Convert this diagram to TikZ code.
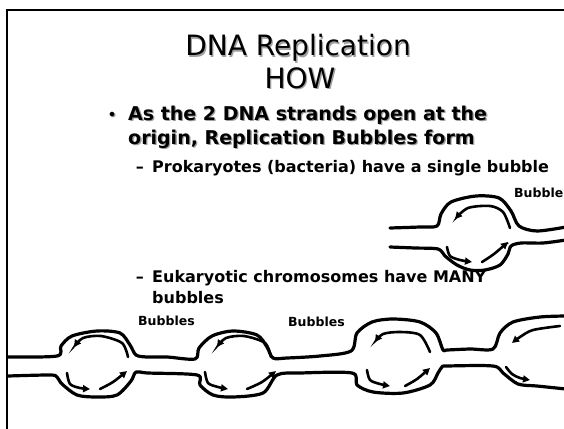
\documentclass[tikz,border=0pt]{standalone}
\usepackage{fontspec}
\setmainfont{DejaVu Sans}
\usepackage{tikz}
\usetikzlibrary{arrows.meta,positioning}

\definecolor{InkBlack}{HTML}{000000}
\definecolor{ShadowGray}{HTML}{A0A0A0}

% text with a soft grey shadow to the lower right
\newcommand\dropshadow[1]{\makebox[0pt][l]{\hspace{1.3pt}\raisebox{-1.3pt}{\textcolor{ShadowGray}{#1}}}#1}

\tikzset{
  % Slide title line
  ttl/.style={anchor=base, font=\fontsize{28}{32}\selectfont, text=InkBlack, inner sep=0pt},
  % First level bullet text
  lvlone/.style={anchor=base west, font=\fontsize{19}{24}\selectfont\bfseries, inner sep=0pt},
  % Second level bullet text
  lvltwo/.style={anchor=base west, font=\fontsize{16}{21}\selectfont\bfseries, inner sep=0pt},
  % Small label over the bubbles
  tag/.style={anchor=base west, font=\fontsize{12.5}{14}\selectfont\bfseries, inner sep=0pt},
  % Parent DNA strand, hand drawn
  strand/.style={line width=3.2pt, line cap=round, line join=round},
  % New strand growing inside a bubble
  fork/.style={line width=2.6pt, line cap=round, -{Triangle[length=7pt,width=7pt]}}
}

\begin{document}
\begin{tikzpicture}[x=1pt, y=-1pt]
  \useasboundingbox (0,0) rectangle (564,428);
  \clip (0,0) rectangle (564,428);

  % slide frame
  \draw[line width=2.6pt] (7,432) -- (7,10) -- (568,10);

  % title and bullets
  \node[ttl] (title) at (298,56) {\dropshadow{DNA Replication}};
  \node[ttl] (how)   at (300,88) {\dropshadow{HOW}};

  \node[lvlone] (pt1)  at (128,120) {\dropshadow{As the 2 DNA strands open at the}};
  \node[lvlone] (pt1b) at (128,144) {\dropshadow{origin, Replication Bubbles form}};
  \node[lvlone, font=\fontsize{16}{20}\selectfont, left=11pt of pt1.base west, anchor=base east] (dot1) {\dropshadow{•}};

  \node[lvltwo] (prok)  at (152,172) {Prokaryotes (bacteria) have a single bubble};
  \node[lvltwo, left=8pt of prok.base west, anchor=base east] (dash1) {–};
  \node[lvltwo] (euk)   at (152,282) {Eukaryotic chromosomes have MANY};
  \node[lvltwo] (eukb)  at (152,303) {bubbles};
  \node[lvltwo, left=8pt of euk.base west, anchor=base east] (dash2) {–};

  \node[tag] (bub0) at (514,197) {Bubble};
  \node[tag] (bub1) at (138,325) {Bubbles};
  \node[tag] (bub2) at (288,326) {Bubbles};

  % single bubble (prokaryote)
  \draw[strand] plot[smooth, tension=0.5] coordinates {(390,228) (420,227) (437,226) (441,214) (451,202) (476,196) (499,198) (511,211) (519,226) (537,231) (566,227)};
  \draw[strand] plot[smooth, tension=0.5] coordinates {(390,247) (415,248) (438,249) (445,256) (457,265) (470,270) (485,270) (500,265) (508,254) (511,246) (521,243) (543,243) (566,240)};
  \draw[fork] plot[smooth] coordinates {(510,228) (503,212) (490,206) (468,208) (455,219)};
  \draw[fork] plot[smooth] coordinates {(447,247) (450,256) (460,260) (472,262)};
  \draw[fork] plot[smooth] coordinates {(482,262) (494,254) (508,242)};

  % many bubbles (eukaryote)
  \draw[strand] plot[smooth, tension=0.5] coordinates {(8,357) (57,356) (61,346) (72,336) (97,331) (120,333) (130,345) (136,355) (147,357) (167,357) (195,359) (199,348) (212,336) (233,331) (257,335) (267,347) (273,358) (287,358) (320,356) (351,351) (357,333) (372,322) (393,319) (420,322) (436,333) (443,350) (447,350) (470,349) (493,349) (500,333) (513,322) (540,317) (566,316)};
  \draw[strand] plot[smooth, tension=0.5] coordinates {(8,376) (50,375) (57,377) (62,384) (77,395) (97,397) (117,395) (131,381) (136,372) (148,373) (197,375) (200,385) (213,395) (233,397) (263,393) (277,375) (300,373) (352,373) (357,385) (373,392) (403,393) (430,385) (438,373) (442,367) (447,366) (493,366) (503,373) (518,384) (537,386) (566,389)};

  \draw[fork] plot[smooth] coordinates {(128,357) (122,343) (101,336) (83,338) (74,347)};
  \draw[fork] plot[smooth] coordinates {(67,373) (70,384) (80,388) (90,389)};
  \draw[fork] plot[smooth] coordinates {(100,389) (113,382) (127,371)};

  \draw[fork] plot[smooth] coordinates {(271,357) (265,343) (244,336) (226,338) (217,347)};
  \draw[fork] plot[smooth] coordinates {(205,372) (208,383) (218,387) (228,389)};
  \draw[fork] plot[smooth] coordinates {(247,389) (262,382) (276,371)};

  \draw[fork] plot[smooth] coordinates {(430,352) (420,335) (400,332) (383,334) (375,342)};
  \draw[fork] plot[smooth] coordinates {(367,370) (370,380) (380,384) (390,386)};
  \draw[fork] plot[smooth] coordinates {(405,386) (417,379) (430,368)};

  \draw[fork] plot[smooth] coordinates {(560,326) (533,330) (520,337) (512,343)};
  \draw[fork] plot[smooth] coordinates {(506,367) (512,374) (520,378) (530,380)};
\end{tikzpicture}
\end{document}
